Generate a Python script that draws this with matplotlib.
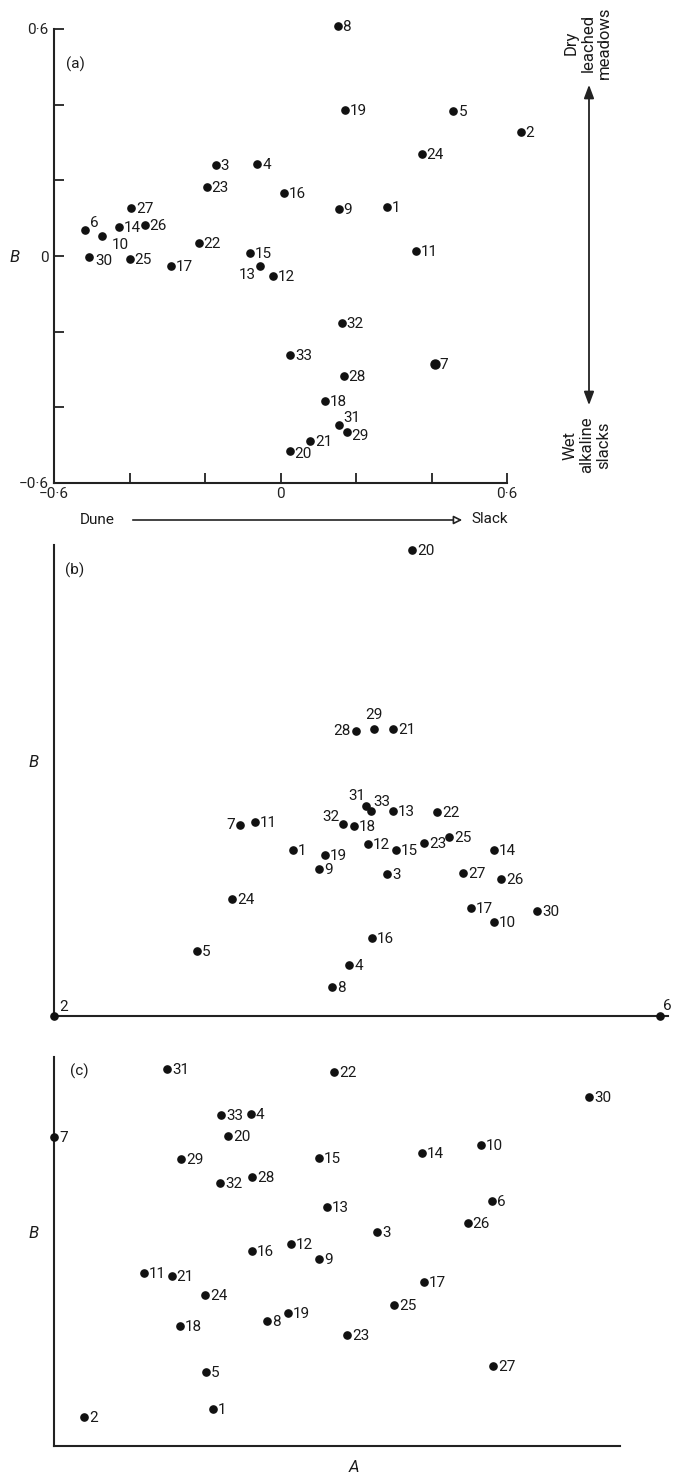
import matplotlib
matplotlib.use('Agg')
import matplotlib.pyplot as plt
from matplotlib.ticker import FixedLocator, FixedFormatter

plt.rcParams['font.family'] = ['Roboto', 'DejaVu Sans']

W, H = 675, 1478

sites = list(range(1, 34))

# Panel (a): ordination scores
a_x = [0.281, 0.636, -0.172, -0.061, 0.458, -0.519, 0.408, 0.151, 0.154, -0.472,
       0.358, -0.021, -0.053, -0.429, -0.082, 0.008, -0.291, 0.117, 0.170, 0.024,
       0.079, -0.217, -0.196, 0.374, -0.400, -0.360, -0.395, 0.167, 0.175, -0.506,
       0.156, 0.162, 0.026]
a_y = [0.129, 0.327, 0.240, 0.243, 0.383, 0.069, -0.285, 0.609, 0.124, 0.053,
       0.013, -0.053, -0.026, 0.077, 0.008, 0.166, -0.026, -0.383, 0.385, -0.515,
       -0.488, 0.034, 0.182, 0.269, -0.008, 0.082, 0.127, -0.317, -0.464, -0.003,
       -0.446, -0.177, -0.261]

# Panel (b)
b_x = [39.4, 0.0, 55.0, 48.7, 23.6, 100.0, 30.7, 45.9, 43.7, 72.6,
       33.2, 51.8, 55.9, 72.6, 56.4, 52.5, 68.8, 49.5, 44.7, 59.1,
       55.9, 63.2, 61.1, 29.4, 65.2, 73.8, 67.5, 49.8, 52.8, 79.7,
       51.5, 47.7, 52.3]
b_y = [35.2, 0.0, 30.1, 10.8, 13.8, 0.0, 40.6, 6.2, 31.2, 20.0,
       41.2, 36.5, 43.5, 35.2, 35.2, 16.6, 22.9, 40.3, 34.2, 98.9,
       60.9, 43.3, 36.7, 24.8, 38.0, 29.1, 30.4, 60.5, 60.9, 22.3,
       44.6, 40.8, 43.5]

# Panel (c)
c_x = [28.1, 5.3, 57.1, 34.8, 26.9, 77.4, 0.0, 37.6, 46.8, 75.4,
       15.9, 41.9, 48.2, 65.0, 46.8, 35.0, 65.4, 22.3, 41.3, 30.7,
       20.8, 49.5, 51.8, 26.7, 60.1, 73.1, 77.6, 35.0, 22.4, 94.5,
       20.0, 29.3, 29.5]
c_y = [9.5, 7.5, 55.0, 85.3, 19.0, 63.0, 79.4, 32.1, 48.1, 77.4,
       44.5, 51.9, 61.4, 75.3, 74.0, 50.1, 42.2, 30.8, 34.2, 79.7,
       43.7, 96.1, 28.5, 38.8, 36.2, 57.3, 20.6, 69.2, 73.8, 89.7,
       96.9, 67.6, 85.1]

a_ticks = [-0.6, -0.4, -0.2, 0.0, 0.2, 0.4, 0.6]
a_ticklabels = ['\u22120\u00b76', '', '', '0', '', '', '0\u00b76']

# label offsets in pixels (dx, dy, ha)
off_a = {6: (5, 7, 'left'), 10: (9, -9, 'left'), 13: (-5, -9, 'right'),
         20: (5, -3, 'left'), 31: (4, 7, 'left'), 29: (5, -4, 'left'),
         30: (6, -4, 'left')}
off_b = {2: (5, 9, 'left'), 6: (3, 10, 'left'), 7: (-5, 0, 'right'),
         28: (-5, 0, 'right'), 29: (0, 14, 'center'), 31: (-1, 10, 'right'),
         33: (2, 9, 'left'), 32: (-4, 7, 'right')}
off_c = {}

FS = 11
TXT = '#1a1a1a'


def fx(px):
    return px / W


def fy(py):
    return 1 - py / H


fig = plt.figure(figsize=(W / 100, H / 100), dpi=100)
fig.patch.set_facecolor('white')


def make_ax(left, top, right, bottom):
    ax = fig.add_axes([fx(left), fy(bottom), (right - left) / W, (bottom - top) / H])
    ax.set_facecolor('none')
    for s in ['top', 'right']:
        ax.spines[s].set_visible(False)
    for s in ['left', 'bottom']:
        ax.spines[s].set_linewidth(1.5)
        ax.spines[s].set_color('#222222')
    return ax


def plot_points(ax, xs, ys, offs, big=()):
    for s, x, y in zip(sites, xs, ys):
        ms = 6.5 if s in big else 5.2
        ax.plot([x], [y], 'o', color='#111111', ms=ms, clip_on=False, zorder=3)
        dx, dy, ha = offs.get(s, (5, -1, 'left'))
        ax.annotate(str(s), (x, y), xytext=(dx * 0.72, dy * 0.72),
                    textcoords='offset points', ha=ha, va='center',
                    fontsize=FS, color=TXT, annotation_clip=False)


# ---------- panel (a)
ax = make_ax(54, 29, 507, 483)
ax.set_xlim(-0.6, 0.6)
ax.set_ylim(-0.6, 0.6)
ax.xaxis.set_major_locator(FixedLocator(a_ticks))
ax.yaxis.set_major_locator(FixedLocator(a_ticks))
ax.xaxis.set_major_formatter(FixedFormatter(a_ticklabels))
ax.yaxis.set_major_formatter(FixedFormatter(a_ticklabels))
ax.tick_params(direction='in', length=7, width=1.3, labelsize=FS,
               colors='#222222')
ax.tick_params(axis='y', pad=4)
ax.tick_params(axis='x', pad=3)
plot_points(ax, a_x, a_y, off_a, big=(7,))
fig.text(fx(75), fy(64), '(a)', fontsize=FS, color=TXT, ha='center', va='center')
fig.text(fx(15), fy(257), 'B', fontsize=FS + 1, style='italic', color=TXT,
         ha='center', va='center')

# Dune -> Slack
fig.text(fx(97), fy(520), 'Dune', fontsize=FS, color=TXT, ha='center', va='center')
fig.text(fx(490), fy(519), 'Slack', fontsize=FS, color=TXT, ha='center', va='center')
fig.add_artist(matplotlib.patches.FancyArrowPatch(
    (fx(130), fy(520)), (fx(465), fy(520)), transform=fig.transFigure,
    arrowstyle='-|>,head_length=5,head_width=2.5', lw=1.2, color='#222222',
    mutation_scale=1, fc='white'))

# vertical arrow
fig.add_artist(matplotlib.patches.FancyArrowPatch(
    (fx(589), fy(408)), (fx(589), fy(82)), transform=fig.transFigure,
    arrowstyle='<|-|>,head_length=8,head_width=3', lw=1.3, color='#222222',
    mutation_scale=1))
fig.text(fx(588), fy(43), 'Dry\nleached\nmeadows', rotation=90, fontsize=FS + 1,
         color=TXT, ha='center', va='center', multialignment='center',
         linespacing=1.15)
fig.text(fx(587), fy(445), 'Wet\nalkaline\nslacks', rotation=90, fontsize=FS + 1,
         color=TXT, ha='center', va='center', multialignment='center',
         linespacing=1.15)

# ---------- panel (b)
ax = make_ax(54, 545, 668, 1016)
ax.set_xlim(0, 101.3)
ax.set_ylim(0, 100)
ax.set_xticks([])
ax.set_yticks([])
plot_points(ax, b_x, b_y, off_b)
fig.text(fx(75), fy(570), '(b)', fontsize=FS, color=TXT, ha='center', va='center')
fig.text(fx(34), fy(762), 'B', fontsize=FS + 1, style='italic', color=TXT,
         ha='center', va='center')

# ---------- panel (c)
ax = make_ax(54, 1057, 620, 1446)
ax.set_xlim(0, 100)
ax.set_ylim(0, 100)
ax.set_xticks([])
ax.set_yticks([])
plot_points(ax, c_x, c_y, off_c)
fig.text(fx(79), fy(1071), '(c)', fontsize=FS, color=TXT, ha='center', va='center')
fig.text(fx(34), fy(1233), 'B', fontsize=FS + 1, style='italic', color=TXT,
         ha='center', va='center')
fig.text(fx(354), fy(1467), 'A', fontsize=FS + 1, style='italic', color=TXT,
         ha='center', va='center')

fig.savefig('out.png', dpi=100)
